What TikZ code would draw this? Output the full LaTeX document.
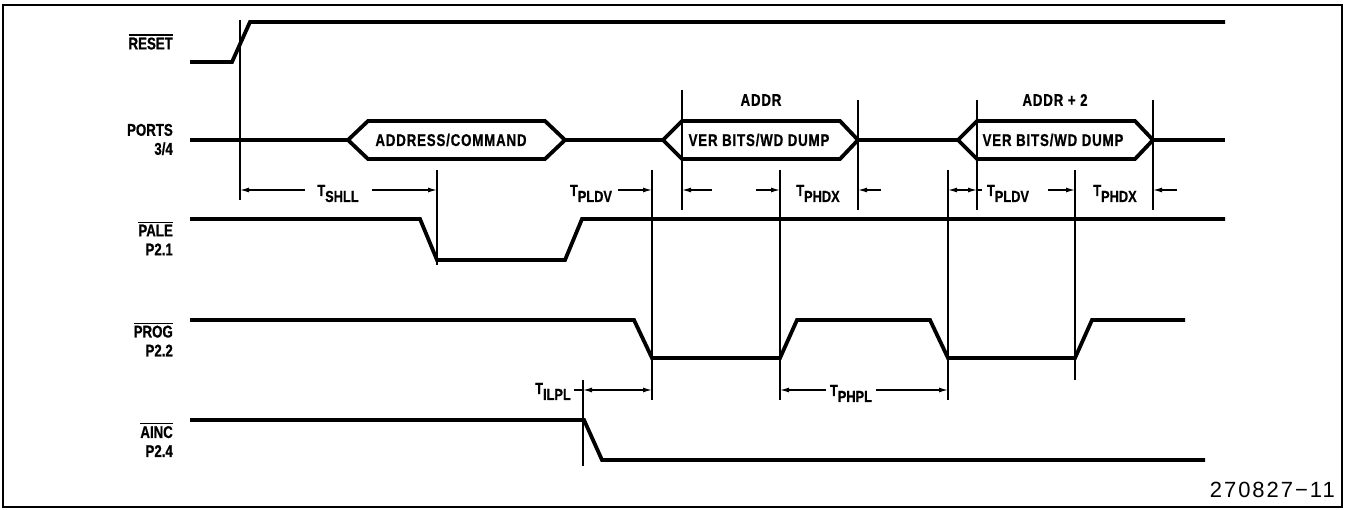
\documentclass[tikz,border=0pt]{standalone}
\usepackage{fontspec}
\setmainfont{Liberation Sans}[FakeStretch=0.78]
\newfontfamily\lblfont{Liberation Sans Bold}[FakeStretch=0.78,FakeBold=0.8]
\newfontfamily\hexfont{Liberation Sans Bold}[FakeStretch=0.78,FakeBold=0.8,LetterSpace=5]
\newfontfamily\subfont{Liberation Sans Bold}[FakeStretch=0.8,FakeBold=0.6]
\newfontfamily\numfont{Liberation Sans}[LetterSpace=9]
\usetikzlibrary{arrows.meta}
\newcommand\ovl[1]{\leavevmode\vbox{\hrule height 1.1pt\kern2pt\hbox{#1}}}
\newcommand\tsub[1]{{\subfont\fontsize{16}{17}\selectfont T}\raisebox{-6pt}{\subfont\fontsize{16}{17}\selectfont #1}}
\begin{document}
\begin{tikzpicture}[x=1pt,y=-1pt,
  sig/.style={line width=3.8pt,line join=miter},
  vl/.style={line width=1.1pt},
  dim/.style={line width=1.3pt},
  arr/.style={dim,-{Latex[length=9pt,width=5pt]}},
  darr/.style={dim,{Latex[length=9pt,width=5pt]}-{Latex[length=9pt,width=5pt]}},
  lab/.style={font=\lblfont\fontsize{17}{19}\selectfont,align=right,anchor=east,inner sep=0pt},
  txt/.style={font=\hexfont\fontsize{17}{19}\selectfont,inner sep=0pt},
  tlab/.style={anchor=base,inner sep=0pt}]
\useasboundingbox (0,0) rectangle (1345,510);
\draw[line width=1.8pt] (3,5) rectangle (1342,507);
% signal names
\node[lab] (lreset) at (173,42) {\ovl{RESET}};
\node[lab] (lports) at (173,139.5) {PORTS\\3/4};
\node[lab] (lpale) at (173,238.5) {\ovl{PALE}\\P2.1};
\node[lab] (lprog) at (173,339.5) {\ovl{PROG}\\P2.2};
\node[lab] (lainc) at (173,440) {\ovl{AINC}\\P2.4};
% waveforms
\draw[sig] (190,62) -- (232,62) -- (250,22) -- (1225,22);
\draw[sig] (190,140) -- (348,140);
\draw[sig] (565,140) -- (663,140);
\draw[sig] (858,140) -- (958,140);
\draw[sig] (1153,140) -- (1225,140);
\draw[sig] (348,140) -- (368,121) -- (545,121) -- (565,140) -- (545,159) -- (368,159) -- cycle;
\draw[sig] (663,140) -- (682,121) -- (840,121) -- (858,140) -- (840,159) -- (682,159) -- cycle;
\draw[sig] (958,140) -- (977,121) -- (1135,121) -- (1153,140) -- (1135,159) -- (977,159) -- cycle;
\node[txt] (h1) at (451,140) {ADDRESS/COMMAND};
\node[txt] (h2) at (759,140) {VER BITS/WD DUMP};
\node[txt] (h3) at (1053,140) {VER BITS/WD DUMP};
\node[txt] (a1) at (761,100) {ADDR};
\node[txt] (a2) at (1055,100) {ADDR + 2};
\draw[sig] (190,219) -- (420,219) -- (437,260) -- (565,260) -- (582,219) -- (1225,219);
\draw[sig] (190,320) -- (634,320) -- (652,358) -- (780,358) -- (797,320) -- (930,320) -- (948,358) -- (1075,358) -- (1092,320) -- (1185,320);
\draw[sig] (190,420) -- (584,420) -- (602,460) -- (1205,460);
% vertical reference lines
\coordinate (v240t) at (240,20);   \coordinate (v240b) at (240,200);
\coordinate (v437t) at (437,170);  \coordinate (v437b) at (437,265);
\coordinate (v583t) at (583,380);  \coordinate (v583b) at (583,466);
\coordinate (v652t) at (652,170);  \coordinate (v652b) at (652,400);
\coordinate (v682t) at (682,90);   \coordinate (v682b) at (682,210);
\coordinate (v780t) at (780,170);  \coordinate (v780b) at (780,400);
\coordinate (v858t) at (858,100);  \coordinate (v858b) at (858,210);
\coordinate (v948t) at (948,170);  \coordinate (v948b) at (948,400);
\coordinate (v977t) at (977,100);  \coordinate (v977b) at (977,210);
\coordinate (v1075t) at (1075,170); \coordinate (v1075b) at (1075,380);
\coordinate (v1153t) at (1153,100); \coordinate (v1153b) at (1153,210);
\foreach \v in {240,437,583,652,682,780,858,948,977,1075,1153}
  \draw[vl] (v\v t) -- (v\v b);
% timing row 1
\node[tlab] (tshll) at (338,196) {\tsub{SHLL}};
\draw[arr] (305,190) -- (240,190);
\draw[arr] (372,190) -- (437,190);
\node[tlab] (tpldv1) at (591,196) {\tsub{PLDV}};
\draw[arr] (618,190) -- (652,190);
\draw[arr] (712,190) -- (682,190);
\draw[arr] (756,190) -- (780,190);
\node[tlab] (tphdx1) at (818,196) {\tsub{PHDX}};
\draw[arr] (881,190) -- (858,190);
\draw[darr] (948,190) -- (977,190);
\draw[dim] (977,190) -- (982,190);
\node[tlab] (tpldv2) at (1008,196) {\tsub{PLDV}};
\draw[arr] (1048,190) -- (1075,190);
\node[tlab] (tphdx2) at (1115,196) {\tsub{PHDX}};
\draw[arr] (1177,190) -- (1153,190);
% timing row 2
\node[tlab] (tilpl) at (553,394) {\tsub{ILPL}};
\draw[dim] (574,390) -- (583,390);
\draw[darr] (583,390) -- (652,390);
\node[tlab] (tphpl) at (851,396) {\tsub{PHPL}};
\draw[arr] (826,390) -- (780,390);
\draw[arr] (876,390) -- (948,390);
% figure number
\node[font=\numfont\fontsize{22}{24}\selectfont,anchor=base east,inner sep=0pt] (fig) at (1335,498) {270827\textminus 11};
\end{tikzpicture}
\end{document}
